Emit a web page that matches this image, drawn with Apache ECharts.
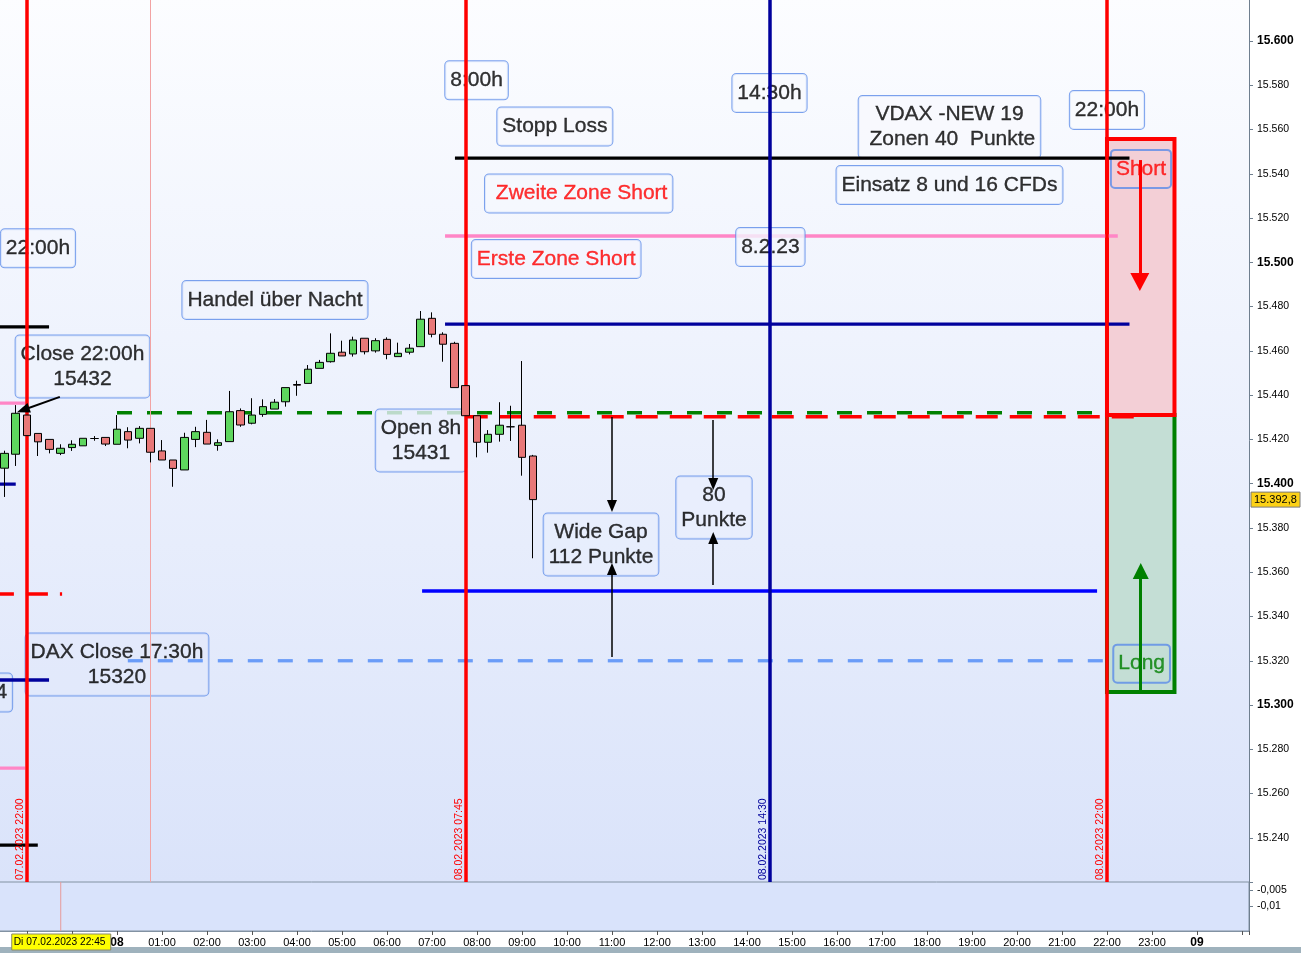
<!DOCTYPE html>
<html>
<head>
<meta charset="utf-8">
<title>DAX 08.02.2023</title>
<script src="https://cdn.jsdelivr.net/npm/echarts@6.0.0/dist/echarts.min.js"></script>
<style>
html,body{margin:0;padding:0;background:#ffffff;overflow:hidden;}
#chart{width:1301px;height:953px;}
</style>
</head>
<body>
<div id="chart"></div>
<script>
// ===================== DATA =====================
// 15-minute candles; hour offsets relative to 08.02.2023 00:00 (negative = 07.02.2023)
const candleHours = [-2.5, -2.25, -2, -1.75, -1.5, -1.25, -1, -0.75, -0.5, -0.25,
  0, 0.25, 0.5, 0.75, 1, 1.25, 1.5, 1.75, 2, 2.25,
  2.5, 2.75, 3, 3.25, 3.5, 3.75, 4, 4.25, 4.5, 4.75,
  5, 5.25, 5.5, 5.75, 6, 6.25, 6.5, 6.75, 7, 7.25,
  7.5, 7.75, 8, 8.25, 8.5, 8.75, 9, 9.25];
const opens = [15407, 15413.3, 15431, 15422.7, 15420, 15413.7, 15416.3, 15417.1, 15420.4, 15420.9,
  15417.8, 15423.5, 15420.5, 15425, 15414.8, 15410.7, 15406.2, 15420, 15423.2, 15417.3,
  15419, 15433, 15427.3, 15431.3, 15433.7, 15437, 15444.8, 15445.3, 15452.1, 15455.1,
  15459.4, 15458.6, 15465.7, 15460, 15465.2, 15457.4, 15459.4, 15461.9, 15474.7, 15467.5,
  15463.4, 15444.3, 15430.7, 15418.7, 15422.3, 15425.7, 15426.4, 15412.5];
const closes = [15413.7, 15431.8, 15421.7, 15418.9, 15415.5, 15416, 15417.8, 15420.5, 15420.4, 15417.9,
  15424.6, 15419.7, 15425, 15414.2, 15410.7, 15406.9, 15420.9, 15423.5, 15417.9, 15418.5,
  15432.5, 15426.5, 15431, 15434.8, 15436.8, 15443.4, 15444.5, 15451.7, 15454.8, 15458.9,
  15457.7, 15464.9, 15459.6, 15464.6, 15458.4, 15458.9, 15461.2, 15474.3, 15467.5, 15463,
  15443.4, 15430.7, 15418.7, 15422.3, 15426.4, 15425.7, 15411.9, 15392.8];
const lows = [15394, 15408, 15421.7, 15412.5, 15413.7, 15412.9, 15414.8, 15417.1, 15419.4, 15417,
  15417.8, 15416, 15418.2, 15409.6, 15410.7, 15398.6, 15406.2, 15416.5, 15417.9, 15414.9,
  15419, 15425.7, 15426.8, 15430.2, 15433.7, 15434.8, 15439.7, 15445.3, 15452.1, 15454.7,
  15457.7, 15457.4, 15458.4, 15459.2, 15456.2, 15457.4, 15458.4, 15461.9, 15466.1, 15455.1,
  15443.4, 15430.7, 15411.9, 15414, 15419, 15419.3, 15403.6, 15366.3];
const highs = [15414.9, 15435.5, 15431, 15422.7, 15420, 15417.8, 15419.6, 15420.5, 15421.5, 15420.9,
  15431, 15425.5, 15426, 15425, 15419.7, 15410.7, 15423, 15425.7, 15428.8, 15420,
  15441.9, 15434, 15438.6, 15438.1, 15438.2, 15443.4, 15446.5, 15453.6, 15455.9, 15467.9,
  15464.6, 15466.4, 15465.7, 15465.7, 15466.1, 15463.7, 15463.1, 15478, 15477.4, 15468.4,
  15464.1, 15444.3, 15430.7, 15424.2, 15436.8, 15435.2, 15455.4, 15413];

// x-axis tick hours and their labels
const xTickHours  = [-3, -2, -1, 0, 1, 2, 3, 4, 5, 6, 7, 8, 9, 10, 11, 12, 13, 14, 15, 16, 17, 18, 19, 20, 21, 22, 23, 24, 25];
const xTickLabels = ['21:00', '22:00', '23:00', '08', '01:00', '02:00', '03:00', '04:00', '05:00', '06:00', '07:00', '08:00', '09:00', '10:00',
  '11:00', '12:00', '13:00', '14:00', '15:00', '16:00', '17:00', '18:00', '19:00', '20:00', '21:00', '22:00', '23:00', '09', ''];
// indicator panel tick values
const subTicks = [-0.005, -0.01];
const subTickLabels = ['-0,005', '-0,01'];

// horizontal levels: [fromHour, toHour, price]
const stopLossSegs   = [[7.51, 22.5, 15547.1], [-2.7, -1.51, 15470.8], [-2.7, -1.76, 15236.7]];
const pinkSegs       = [[7.29, 22.24, 15511.9], [-2.7, -2.04, 15436.4], [-2.7, -2.04, 15271.5]];
const navySegs       = [[7.29, 22.5, 15472.1], [-2.7, -2.25, 15399.8], [-2.7, -1.51, 15311.3]];
const blueSegs       = [[6.78, 21.78, 15351.5]];
const greenDashSegs  = [[0, 21.75, 15432]];
const redDashSegs    = [[7.75, 22.62, 15430.2], [-2.78, -1.22, 15350.1]];
const lightDashSegs  = [[0.24, 21.96, 15320]];

// vertical lines
const vLineHours  = [-2, 7.75, 14.5, 22, 0.75];
const vLineColors = ['#ff0000', '#ff0000', '#00009c', '#ff0000', '#f2a3a3'];
const vLineWidths = [3.5, 3.5, 3.5, 3.5, 1];
const vLineLabels = ['07.02.2023 22:00', '08.02.2023 07:45', '08.02.2023 14:30', '08.02.2023 22:00', ''];

// arrows: [fromHour, fromPrice, toHour(head centre), toPrice(head centre), color, width, headW, headL]
const arrows = [
  [11, 15430.1, 11, 15389.9, '#000000', 1.5, 10, 12],
  [11, 15321.7, 11, 15361.4, '#000000', 1.5, 10, 12],
  [13.25, 15428.8, 13.25, 15399.8, '#000000', 1.5, 10, 12],
  [13.25, 15354.2, 13.25, 15375.4, '#000000', 1.5, 10, 12],
  [-1.27, 15439.2, -2.087, 15433.3, '#000000', 2, 10, 13],
  [22.73, 15546.2, 22.73, 15491.1, '#ff0000', 3, 19, 18],
  [22.75, 15305.9, 22.75, 15360.5, '#008000', 3, 16, 16]
];

// trade zones: [fromHour, toHour, topPrice, bottomPrice]
const shortZone = [22, 23.5, 15555.7, 15431];
const longZone  = [22, 23.5, 15431, 15305.9];

// text notes: [hour, price, text, color]
const notes = [
  [7.99, 15582.2, '8:00h', '#000000'],
  [9.73, 15561.4, 'Stopp Loss', '#000000'],
  [10.26, 15531.1, ' Zweite Zone Short', '#ff0000'],
  [9.76, 15501.5, 'Erste Zone Short', '#ff0000'],
  [14.5, 15576.5, '14:30h', '#000000'],
  [14.52, 15506.9, '8.2.23', '#000000'],
  [18.5, 15561.1, 'VDAX -NEW 19\n Zonen 40  Punkte', '#000000'],
  [18.5, 15534.9, 'Einsatz 8 und 16 CFDs', '#000000'],
  [22.0, 15568.8, '22:00h', '#000000'],
  [-1.756, 15506.3, '22:00h', '#000000'],
  [3.51, 15483.0, 'Handel über Nacht', '#000000'],
  [-0.767, 15452.9, 'Close 22:00h\n15432', '#000000'],
  [6.756, 15419.5, 'Open 8h\n15431', '#000000'],
  [10.756, 15372.5, 'Wide Gap\n112 Punkte', '#000000'],
  [13.267, 15389.2, '80\nPunkte', '#000000'],
  [0, 15318.3, 'DAX Close 17:30h\n15320', '#000000'],
  [22.756, 15542.2, 'Short', '#ff0000'],
  [22.77, 15318.7, 'Long', '#008000'],
  [-3.09, 15305.6, '15314', '#000000']
];

const lastPrice = 15392.8;
const lastPriceLabel = '15.392,8';
const crossHour = -1.25;
const crossLabel = 'Di 07.02.2023 22:45';

// ===================== CHART =====================
const FONT = '"Liberation Sans", Arial, Helvetica, sans-serif';
const chart = echarts.init(document.getElementById('chart'), null, { width: 1301, height: 953, renderer: 'canvas' });

const TOP_RGB = [252, 253, 255], BOT_RGB = [218, 227, 250];
function bgAt(price) {
  const y = 41 + (15600 - price) * 2.2133;
  const t = Math.max(0, Math.min(1, y / 882));
  const c = TOP_RGB.map((v, i) => Math.round(v + (BOT_RGB[i] - v) * t));
  return 'rgb(' + c.join(',') + ')';
}

function segSeries(name, segs, color, width, dash, z, dashOffset) {
  return segs.map((s, i) => ({
    name: name + i, type: 'line', xAxisIndex: 0, yAxisIndex: 0,
    data: [[s[0], s[2]], [s[1], s[2]]],
    symbol: 'none', silent: true, z: z, animation: false,
    lineStyle: { color: color, width: width, type: dash || 'solid', dashOffset: dashOffset || 0, cap: 'butt' }
  }));
}

const series = [];
// lines below the note boxes
series.push(...segSeries('pink', pinkSegs, '#ff86c6', 3.3, null, 1));
series.push(...segSeries('green', greenDashSegs, '#008000', 3.5, [15, 15], 1));

// trade zones
series.push({
  type: 'scatter', xAxisIndex: 0, yAxisIndex: 0, data: [], z: 1, silent: true,
  markArea: {
    silent: true, animation: false,
    data: [
      [{ coord: [longZone[0], longZone[2]], itemStyle: { color: '#c4ded5', borderColor: '#008000', borderWidth: 4 } },
       { coord: [longZone[1], longZone[3]] }],
      [{ coord: [shortZone[0], shortZone[2]], itemStyle: { color: '#f3cfd6', borderColor: '#ff0000', borderWidth: 4 } },
       { coord: [shortZone[1], shortZone[3]] }]
    ]
  }
});

// note boxes
series.push({
  type: 'scatter', xAxisIndex: 0, yAxisIndex: 0, z: 2, clip: false, silent: true,
  symbol: 'rect', symbolSize: 1, itemStyle: { color: 'rgba(0,0,0,0)' },
  label: {
    show: true, position: [0.5, 0.5], align: 'center', verticalAlign: 'middle',
    fontFamily: FONT, fontSize: 21,
    borderColor: '#5b8be8', borderWidth: 1, borderRadius: 4
  },
  data: notes.map(n => {
    const multi = n[2].indexOf('\n') >= 0;
    const transparentBg = (n[2] === 'Short' || n[2] === 'Long');
    return {
      value: [n[0], n[1]],
      label: {
        formatter: n[2], color: n[3],
        textBorderColor: n[3], textBorderWidth: 0.35,
        lineHeight: multi ? 25 : 24,
        padding: multi ? [6, 5, 6, 5] : [7, 5, 7, 5],
        backgroundColor: transparentBg ? 'transparent' : bgAt(n[1])
      }
    };
  })
});

// lines above the note boxes
series.push(...segSeries('stop', stopLossSegs, '#000000', 3.3, null, 3));
series.push(...segSeries('navy', navySegs, '#00009c', 3.3, null, 3));
series.push(...segSeries('blue', blueSegs, '#0000ff', 3.3, null, 3));
series.push(...segSeries('red', redDashSegs, '#ff0000', 3.5, [22, 12], 3));
series.push(...segSeries('light', lightDashSegs, '#6a9cf8', 3.3, [15, 15], 3));

// vertical lines
series.push({
  type: 'scatter', xAxisIndex: 0, yAxisIndex: 0, data: [], z: 3, silent: true,
  markLine: {
    silent: true, animation: false, symbol: ['none', 'none'],
    data: vLineHours.map((h, i) => ({
      xAxis: h,
      lineStyle: { color: vLineColors[i], width: vLineWidths[i], type: 'solid' },
      label: {
        show: !!vLineLabels[i], formatter: vLineLabels[i], position: 'insideStartTop',
        color: vLineColors[i], fontSize: 10.5, fontFamily: FONT, distance: [2, 1]
      }
    }))
  }
});

// arrows
series.push({
  type: 'scatter', xAxisIndex: 0, yAxisIndex: 0, data: [], z: 4, silent: true,
  markLine: {
    silent: true, animation: false, label: { show: false },
    data: arrows.map(a => [
      { coord: [a[0], a[1]], symbol: 'none', lineStyle: { color: a[4], width: a[5], type: 'solid' } },
      { coord: [a[2], a[3]], symbol: 'triangle', symbolSize: [a[6], a[7]] }
    ])
  }
});

// candles
series.push({
  type: 'candlestick', xAxisIndex: 0, yAxisIndex: 0, z: 5, silent: true,
  barWidth: 8,
  encode: { x: 0, y: [1, 2, 3, 4] },
  itemStyle: {
    color: '#5ed65e', color0: '#e87878',
    borderColor: '#000000', borderColor0: '#000000', borderColorDoji: '#000000', borderWidth: 1
  },
  data: candleHours.map((h, i) => [h, opens[i], closes[i], lows[i], highs[i]])
});

const option = {
  animation: false,
  backgroundColor: '#ffffff',
  textStyle: { fontFamily: FONT },
  grid: [
    {
      left: -18, top: -3.3, width: 1267, height: 885.4, show: true, borderWidth: 0,
      containLabel: false, outerBoundsMode: 'none',
      backgroundColor: new echarts.graphic.LinearGradient(0, 0, 0, 1, [
        { offset: 0, color: 'rgb(252,253,255)' }, { offset: 1, color: 'rgb(218,227,250)' }
      ])
    },
    {
      left: -18, top: 882, width: 1267, height: 49, show: true,
      containLabel: false, outerBoundsMode: 'none',
      backgroundColor: '#d9e3fb', borderColor: '#8292a2', borderWidth: 1
    }
  ],
  xAxis: [
    { gridIndex: 0, type: 'value', min: -3, max: 25.156, interval: 1, show: false,
      axisLine: { onZero: false } },
    {
      gridIndex: 1, type: 'value', min: -3, max: 25.156, interval: 1,
      axisLine: { show: true, onZero: false, lineStyle: { color: '#8292a2' } },
      axisTick: { show: true, length: 4, lineStyle: { color: '#555' } },
      splitLine: { show: false },
      axisLabel: {
        show: true, margin: 6, color: '#000', fontSize: 11, fontFamily: FONT,
        formatter: v => {
          const i = xTickHours.indexOf(v);
          if (i < 0) return '';
          const s = xTickLabels[i];
          return (s === '08' || s === '09') ? '{b|' + s + '}' : s;
        },
        rich: { b: { fontWeight: 'bold', fontSize: 12, fontFamily: FONT, color: '#000' } }
      }
    }
  ],
  yAxis: [
    {
      gridIndex: 0, type: 'value', position: 'right', min: 15220, max: 15620, interval: 20,
      axisLine: { show: true, onZero: false, lineStyle: { color: '#6f7f8f' } },
      axisTick: { show: true, length: 4, lineStyle: { color: '#6f7f8f' } },
      splitLine: { show: false },
      axisLabel: {
        show: true, margin: 8, color: '#000', fontSize: 10.5, fontFamily: FONT,
        formatter: v => {
          if (v === 15220) return '';
          const s = (v / 1000).toFixed(3);
          return v % 100 === 0 ? '{b|' + s + '}' : s;
        },
        rich: { b: { fontWeight: 'bold', fontSize: 12, fontFamily: FONT, color: '#000' } }
      }
    },
    {
      gridIndex: 1, type: 'value', position: 'right', min: -0.017656, max: -0.002344,
      axisLine: { show: true, onZero: false, lineStyle: { color: '#6f7f8f' } },
      axisTick: { show: true, length: 4, lineStyle: { color: '#6f7f8f' }, customValues: subTicks },
      splitLine: { show: false },
      axisLabel: {
        show: true, margin: 8, color: '#000', fontSize: 10.5, fontFamily: FONT, customValues: subTicks,
        formatter: v => {
          const i = subTicks.findIndex(t => Math.abs(t - v) < 1e-9);
          return i < 0 ? '' : subTickLabels[i];
        }
      }
    }
  ],
  series: series
};

chart.setOption(option);

const yLast = chart.convertToPixel({ yAxisIndex: 0 }, lastPrice);
const xCross = chart.convertToPixel({ xAxisIndex: 1 }, crossHour);
chart.setOption({
  graphic: [
    { type: 'rect', silent: true, z: 10, shape: { x: 0, y: 947, width: 1301, height: 6 }, style: { fill: '#9fb2bd' } },
    { type: 'line', silent: true, z: 10, shape: { x1: xCross, y1: 882, x2: xCross, y2: 931 }, style: { stroke: '#e79a9a', lineWidth: 1 } },
    { type: 'rect', silent: true, z: 20, shape: { x: xCross - 49, y: 934, width: 99, height: 16 }, style: { fill: '#ffff00', stroke: '#8a8a6a', lineWidth: 1 } },
    { type: 'text', silent: true, z: 21, x: xCross - 47, y: 942,
      style: { text: crossLabel, fill: '#000', font: '10.2px ' + FONT, textVerticalAlign: 'middle', verticalAlign: 'middle' } },
    { type: 'rect', silent: true, z: 20, shape: { x: 1251, y: yLast - 7.5, width: 49, height: 15 }, style: { fill: '#fcd116', stroke: '#7a7a7a', lineWidth: 1 } },
    { type: 'text', silent: true, z: 21, x: 1254, y: yLast,
      style: { text: lastPriceLabel, fill: '#000', font: '11px ' + FONT, textVerticalAlign: 'middle', verticalAlign: 'middle' } }
  ]
});
</script>
</body>
</html>
